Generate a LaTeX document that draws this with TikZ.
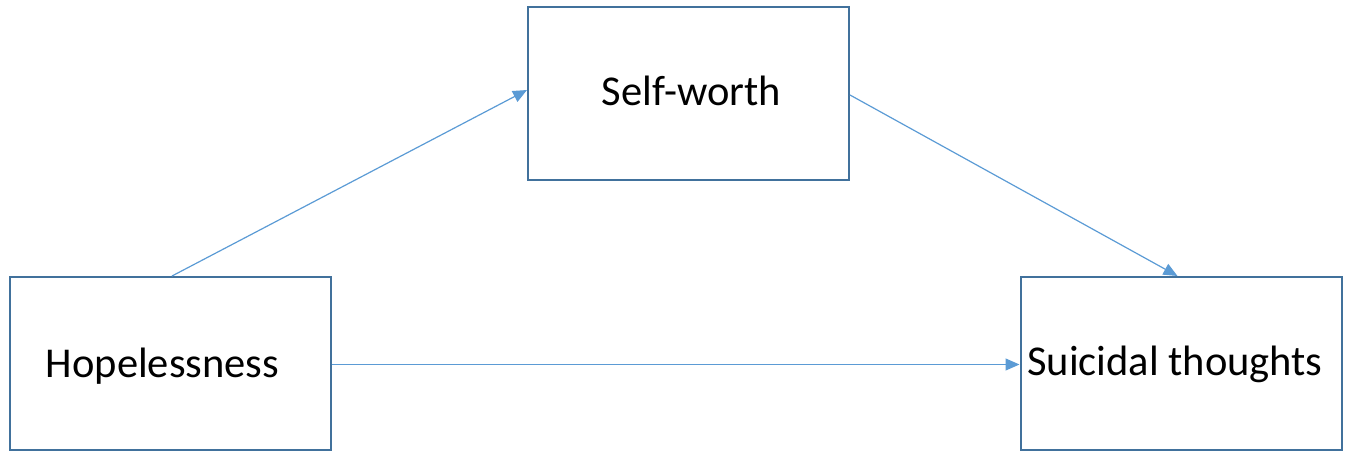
\documentclass[tikz,border=0pt]{standalone}
\usepackage{fontspec}
\setmainfont{Carlito}
\usetikzlibrary{arrows.meta}
\definecolor{boxline}{HTML}{41719C}
\definecolor{arrowline}{HTML}{5B9BD5}
\tikzset{
  box/.style={draw=boxline, line width=2pt, minimum width=321pt, minimum height=173pt, inner sep=0pt},
  lbl/.style={anchor=base, inner sep=0pt, font=\fontsize{42.5}{50}\selectfont},
  path/.style={draw=arrowline, line width=1.2pt, -{Triangle[length=14pt,width=12pt]}}
}
\begin{document}
\begin{tikzpicture}[x=1pt,y=-1pt]
      \useasboundingbox (0,0) rectangle (1345,452);
      \draw
        (170,363.5) node[box] (hope){}
        (688.5,93.5) node[box] (worth){}
        (1181,363.5) node[box] (thoughts){};
      \draw
        (162.5,377) node[lbl] (hopetext){Hopelessness}
        (691.5,106) node[lbl] (worthtext){Self-worth}
        (1175,375) node[lbl] (thoughtstext){Suicidal thoughts};
      \begin{scope}[path]
        \draw ([xshift=2pt]hope.north) to ([yshift=3.5pt]worth.west);
        \draw ([yshift=-1.5pt]worth.east) to ([xshift=-3.5pt]thoughts.north);
        \draw ([yshift=-1pt]hope.east) to ([yshift=-1pt]thoughts.west);
      \end{scope}
    \end{tikzpicture}
\end{document}
